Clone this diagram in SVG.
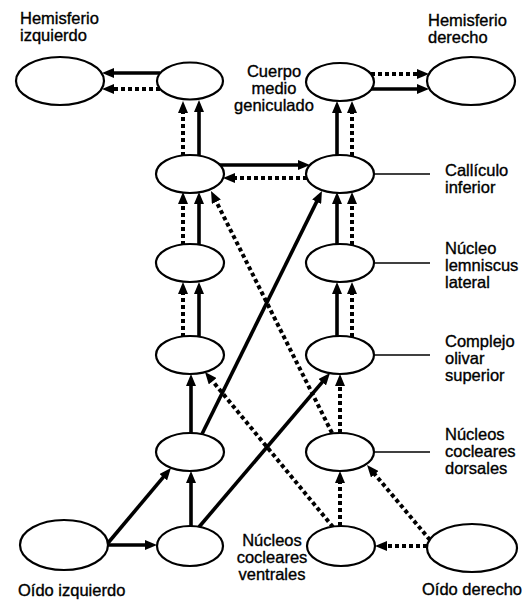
<svg xmlns="http://www.w3.org/2000/svg" width="529" height="601" viewBox="0 0 529 601">
  <style>
    .node { fill: #fff; stroke: #000; stroke-width: 2.2; }
    .solid { fill: none; stroke: #000; stroke-width: 3.6; marker-end: url(#head); }
    .dash { fill: none; stroke: #000; stroke-width: 4; stroke-dasharray: 4 3; marker-end: url(#head); }
    .tick { fill: none; stroke: #000; stroke-width: 1.6; }
    text { font-family: "Liberation Sans", Arial, Helvetica, sans-serif; font-size: 16.5px; fill: #000; stroke: #000; stroke-width: 0.35; }
    .mid { text-anchor: middle; }
  </style>
  <defs>
    <marker id="head" viewBox="0 0 12 10" markerWidth="12" markerHeight="10" refX="6" refY="5" orient="auto" markerUnits="userSpaceOnUse">
      <path d="M0,0 L12,5 L0,10 z" fill="#000"/>
    </marker>
  </defs>

  <rect width="529" height="601" fill="#fff"/>

  <!-- connectors -->
  <g id="connectors">
    <!-- medial geniculate to hemispheres -->
    <line class="solid" x1="160" y1="73" x2="108" y2="73"/>
    <line class="dash" x1="160" y1="89" x2="108" y2="89"/>
    <line class="dash" x1="371" y1="74" x2="423" y2="74"/>
    <line class="solid" x1="371" y1="89" x2="423" y2="89"/>

    <!-- inferior colliculus to medial geniculate -->
    <line class="dash" x1="183" y1="156" x2="183" y2="107"/>
    <line class="solid" x1="199" y1="157" x2="199" y2="106"/>
    <line class="solid" x1="337" y1="155" x2="337" y2="107"/>
    <line class="dash" x1="352" y1="156" x2="352" y2="107"/>

    <!-- colliculus crossing -->
    <line class="solid" x1="220" y1="165" x2="304" y2="165"/>
    <line class="dash" x1="307" y1="178" x2="229" y2="178"/>

    <!-- lateral lemniscus to colliculus -->
    <line class="dash" x1="183" y1="245" x2="183" y2="198"/>
    <line class="solid" x1="199" y1="245" x2="199" y2="198"/>
    <line class="solid" x1="337" y1="244" x2="337" y2="198"/>
    <line class="dash" x1="352" y1="245" x2="352" y2="198"/>

    <!-- superior olive to lateral lemniscus -->
    <line class="dash" x1="183" y1="337" x2="183" y2="288"/>
    <line class="solid" x1="199" y1="337" x2="199" y2="288"/>
    <line class="solid" x1="337" y1="336" x2="337" y2="288"/>
    <line class="dash" x1="352" y1="337" x2="352" y2="288"/>

    <!-- left column lower -->
    <line class="solid" x1="191" y1="433" x2="191" y2="380"/>
    <line class="solid" x1="191" y1="526" x2="191" y2="477"/>
    <line class="solid" x1="108" y1="545" x2="151" y2="545"/>
    <line class="solid" x1="108" y1="543" x2="167.1" y2="472.6"/>
    <line class="solid" x1="202" y1="434" x2="319.3" y2="196.4"/>
    <line class="solid" x1="199" y1="527" x2="326.1" y2="377.6"/>

    <!-- right column lower -->
    <line class="dash" x1="340" y1="433" x2="340" y2="380"/>
    <line class="dash" x1="340" y1="526" x2="340" y2="477"/>
    <line class="dash" x1="427" y1="546" x2="381" y2="546"/>
    <line class="dash" x1="430" y1="540" x2="370.9" y2="469.6"/>
    <line class="dash" x1="333" y1="527" x2="208.8" y2="376.6"/>
    <line class="dash" x1="332" y1="433" x2="213.7" y2="196.4"/>

    <!-- label leaders -->
    <line class="tick" x1="373" y1="174" x2="430" y2="174"/>
    <line class="tick" x1="373" y1="263" x2="430" y2="263"/>
    <line class="tick" x1="373" y1="355" x2="430" y2="355"/>
    <line class="tick" x1="373" y1="452" x2="430" y2="452"/>
  </g>

  <!-- nodes -->
  <g id="hemisferio-izquierdo">
    <ellipse class="node" cx="60" cy="81" rx="44" ry="24"/>
    <text x="20" y="24">Hemisferio</text>
    <text x="20" y="41">izquierdo</text>
  </g>
  <g id="hemisferio-derecho">
    <ellipse class="node" cx="471" cy="81" rx="44" ry="24"/>
    <text x="428" y="26">Hemisferio</text>
    <text x="428" y="43">derecho</text>
  </g>
  <g id="cmg-izquierdo">
    <ellipse class="node" cx="190" cy="81" rx="33" ry="18.5"/>
  </g>
  <g id="cmg-derecho">
    <ellipse class="node" cx="340" cy="82" rx="34" ry="19"/>
    <text class="mid" x="274" y="77">Cuerpo</text>
    <text class="mid" x="274" y="94">medio</text>
    <text class="mid" x="274" y="111">geniculado</text>
  </g>
  <g id="colliculo-izquierdo">
    <ellipse class="node" cx="190" cy="174" rx="34" ry="19"/>
  </g>
  <g id="colliculo-derecho">
    <ellipse class="node" cx="340" cy="174" rx="34" ry="19"/>
    <text x="445" y="176">Callículo</text>
    <text x="445" y="193">inferior</text>
  </g>
  <g id="lemnisco-izquierdo">
    <ellipse class="node" cx="190" cy="263" rx="34" ry="19"/>
  </g>
  <g id="lemnisco-derecho">
    <ellipse class="node" cx="340" cy="263" rx="34" ry="19"/>
    <text x="445" y="254">Núcleo</text>
    <text x="445" y="271">lemniscus</text>
    <text x="445" y="288">lateral</text>
  </g>
  <g id="olivar-izquierdo">
    <ellipse class="node" cx="190" cy="355" rx="34" ry="19"/>
  </g>
  <g id="olivar-derecho">
    <ellipse class="node" cx="340" cy="355" rx="34" ry="19"/>
    <text x="445" y="347">Complejo</text>
    <text x="445" y="364">olivar</text>
    <text x="445" y="381">superior</text>
  </g>
  <g id="dorsal-izquierdo">
    <ellipse class="node" cx="190" cy="452" rx="34" ry="19"/>
  </g>
  <g id="dorsal-derecho">
    <ellipse class="node" cx="340" cy="452" rx="34" ry="19"/>
    <text x="445" y="440">Núcleos</text>
    <text x="445" y="457">cocleares</text>
    <text x="445" y="474">dorsales</text>
  </g>
  <g id="ventral-izquierdo">
    <ellipse class="node" cx="190" cy="546" rx="33" ry="20"/>
  </g>
  <g id="ventral-derecho">
    <ellipse class="node" cx="341" cy="546" rx="34" ry="20"/>
    <text class="mid" x="272" y="546">Núcleos</text>
    <text class="mid" x="272" y="563">cocleares</text>
    <text class="mid" x="272" y="580">ventrales</text>
  </g>
  <g id="oido-izquierdo">
    <ellipse class="node" cx="64" cy="545" rx="44" ry="25"/>
    <text x="18" y="596">Oído izquierdo</text>
  </g>
  <g id="oido-derecho">
    <ellipse class="node" cx="472" cy="548" rx="45" ry="24"/>
    <text x="422" y="595">Oído derecho</text>
  </g>
</svg>
